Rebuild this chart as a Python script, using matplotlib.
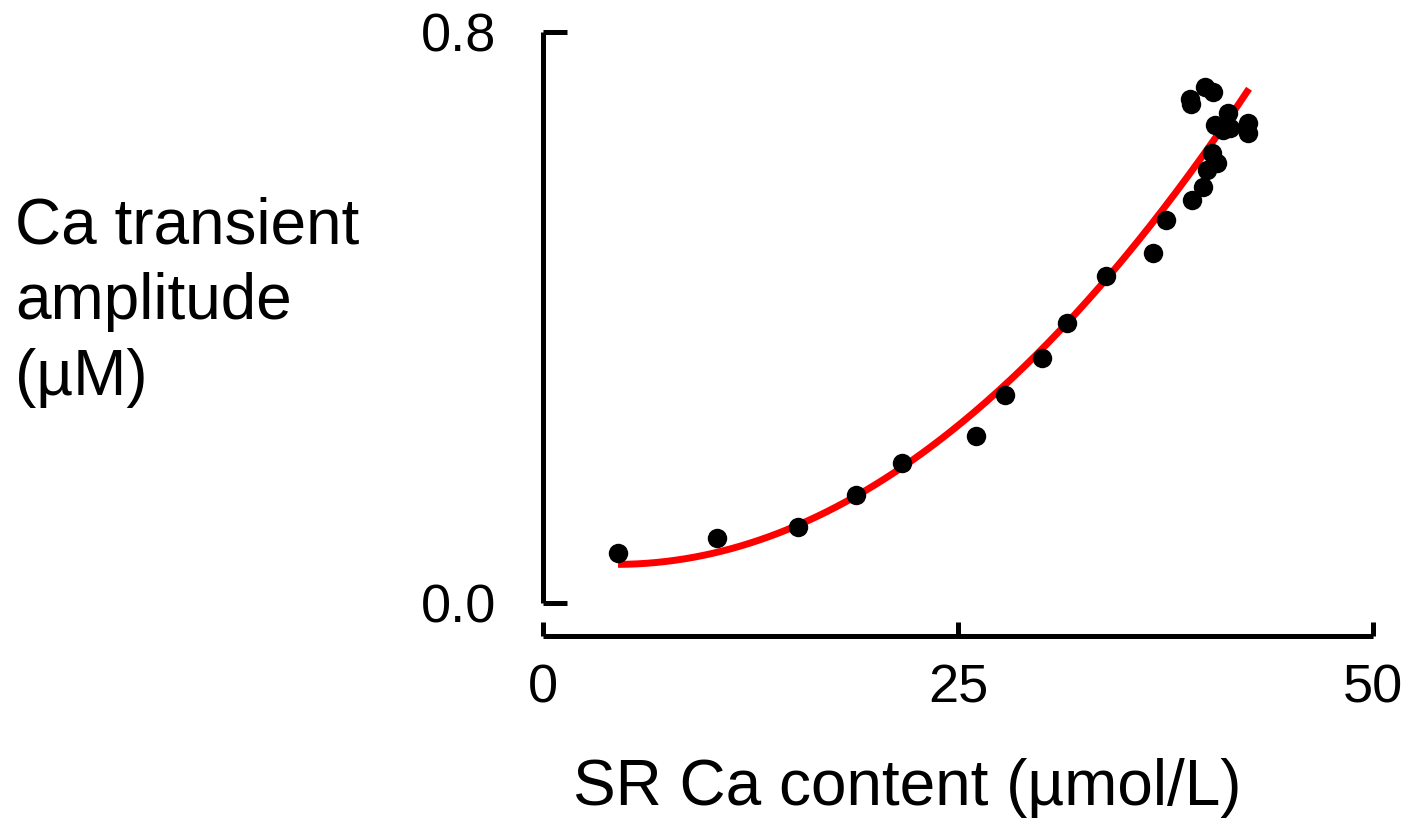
import numpy as np
import matplotlib
matplotlib.use("Agg")
import matplotlib.pyplot as plt

plt.rcParams['font.family'] = ['Liberation Sans', 'DejaVu Sans']

# Scatter data: SR Ca content (umol/L) vs Ca transient amplitude (uM)
sr_ca = [4.52, 10.48, 15.36, 18.86, 21.63, 26.07, 27.81, 30.04, 31.57, 33.90,
         36.73, 37.51, 39.10, 39.76, 40.00, 40.60, 40.30, 40.48, 41.39, 41.27,
         42.47, 42.47, 38.98, 39.04, 39.88, 40.36, 40.96]
amplitude = [0.070, 0.091, 0.106, 0.151, 0.196, 0.234, 0.291, 0.343, 0.392, 0.458,
             0.490, 0.537, 0.565, 0.583, 0.607, 0.616, 0.630, 0.670, 0.665, 0.687,
             0.672, 0.658, 0.706, 0.699, 0.723, 0.716, 0.663]

# Points
fit_x = [4.52, 10.48, 15.3, 18.9, 23.31, 29.94, 33.98, 37.77, 42.53]
fit_y = [0.053, 0.075, 0.109, 0.144, 0.219, 0.354, 0.457, 0.565, 0.719]

x_ticks = [0, 25, 50]
y_ticks = [0.0, 0.8]
y_tick_labels = ["0.0", "0.8"]
x_label = "SR Ca content (µmol/L)"
y_label_lines = ["Ca transient", "amplitude", "(µM)"]

W, H = 1408, 826
fig = plt.figure(figsize=(W / 100, H / 100), dpi=100)

left_px, right_px = 543, 1373
top_px, bottom_px = 32, 603
ax = fig.add_axes([left_px / W, (H - bottom_px) / H,
                   (right_px - left_px) / W, (bottom_px - top_px) / H])

# fitted quadratic through the read curve points
coef = np.polyfit(fit_x, fit_y, 2)
xs = np.linspace(fit_x[0], fit_x[-1], 200)
ax.plot(xs, np.polyval(coef, xs), color='#ff0000', lw=5.0, solid_capstyle='butt', zorder=2)
ax.plot(sr_ca, amplitude, 'o', color='black', markersize=14, markeredgewidth=0, zorder=3)

ax.set_xlim(0, 50)
ax.set_ylim(0, 0.8)

for s in ['top', 'right']:
    ax.spines[s].set_visible(False)
ax.spines['left'].set_linewidth(3.6)
ax.spines['bottom'].set_linewidth(3.6)
ax.spines['bottom'].set_position(('outward', 33 * 0.72))
ax.spines['left'].set_capstyle('butt')
ax.spines['bottom'].set_capstyle('butt')

ax.set_xticks(x_ticks)
ax.set_xticklabels([str(t) for t in x_ticks])
ax.set_yticks(y_ticks)
ax.set_yticklabels(y_tick_labels)
ax.tick_params(axis='y', direction='in', length=17, width=3.6, pad=34, labelsize=39)
ax.tick_params(axis='x', direction='in', length=10, width=3.6, pad=20, labelsize=39)

fig.text(907 / W, (H - 805) / H, x_label, ha='center', va='baseline', fontsize=46)
for line, base in zip(y_label_lines, [243, 319, 395]):
    fig.text(15 / W, (H - base) / H, line, ha='left', va='baseline', fontsize=46)

fig.savefig("out.png", dpi=100)
